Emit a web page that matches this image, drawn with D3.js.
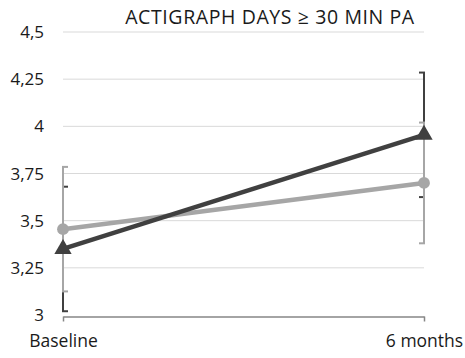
<!DOCTYPE html>
<html>
<head>
<meta charset="utf-8">
<script src="https://cdn.jsdelivr.net/npm/d3@7"></script>
<style>
  body { margin: 0; background: #fff; }
  text { font-family: "Open Sans", "Liberation Sans", sans-serif; fill: #1a1a1a; }
</style>
</head>
<body>
<div id="chart"></div>
<script>
// data
var categories = ["Baseline", "6 months"];
var yTicks = [3, 3.25, 3.5, 3.75, 4, 4.25, 4.5];
var greyValues = [3.455, 3.70];
var greyErrors = [0.33, 0.32];
var darkValues = [3.35, 3.955];
var darkErrors = [0.33, 0.33];
var title = "ACTIGRAPH DAYS \u2265 30 MIN PA";

var width = 465, height = 358;
var margin = {top: 32, right: 41, bottom: 43, left: 63};

var svg = d3.select("#chart").append("svg")
  .attr("width", width)
  .attr("height", height);

var x = d3.scalePoint()
  .domain(categories)
  .range([margin.left, width - margin.right]);

var y = d3.scaleLinear()
  .domain([3, 4.5])
  .range([height - margin.bottom, margin.top]);

var fmt = (d) => String(d).replace(".", ",");

// gridlines
svg.append("g")
  .selectAll("line")
  .data(yTicks.slice(1))
  .enter().append("line")
  .attr("x1", x.range()[0])
  .attr("x2", x.range()[1])
  .attr("y1", (d) => y(d))
  .attr("y2", (d) => y(d))
  .style("stroke", "#d9d9d9")
  .style("stroke-width", 1);

// y tick labels
svg.append("g")
  .selectAll("text")
  .data(yTicks)
  .enter().append("text")
  .attr("x", 44)
  .attr("y", (d) => y(d) + 6)
  .attr("text-anchor", "end")
  .style("font-size", "17px")
  .text(fmt);

// x axis
var xAxis = svg.append("g")
  .attr("transform", "translate(0," + (y(3) + 1.5) + ")")
  .call(d3.axisBottom(x).tickSize(5).tickSizeOuter(0).tickPadding(13));
xAxis.select(".domain").style("stroke", "#868686").style("stroke-width", 1.5);
xAxis.selectAll(".tick line").style("stroke", "#868686").style("stroke-width", 1.5);
xAxis.selectAll(".tick text")
  .style("font-size", "17.5px")
  .style("font-family", "'Open Sans', sans-serif")
  .attr("fill", "#1a1a1a");

// clip so caps at the edges are cut like the original
svg.append("clipPath").attr("id", "plotclip")
  .append("rect")
  .attr("x", x.range()[0] - 1)
  .attr("y", 0)
  .attr("width", x.range()[1] - x.range()[0] + 2)
  .attr("height", height);

var series = [
  {vals: darkValues, errs: darkErrors, color: "#404040", shape: "triangle"},
  {vals: greyValues, errs: greyErrors, color: "#a6a6a6", shape: "circle"}
];

// error bars: dark first, grey on top
series.forEach(function(s) {
  var g = svg.append("g").attr("clip-path", "url(#plotclip)");
  categories.forEach(function(c, i) {
    var cx = x(c), hi = y(s.vals[i] + s.errs[i]), lo = y(s.vals[i] - s.errs[i]);
    g.append("line").attr("x1", cx).attr("x2", cx).attr("y1", hi).attr("y2", lo);
    g.append("line").attr("x1", cx - 5).attr("x2", cx + 5).attr("y1", hi).attr("y2", hi);
    g.append("line").attr("x1", cx - 5).attr("x2", cx + 5).attr("y1", lo).attr("y2", lo);
  });
  g.selectAll("line").style("stroke", s.color).style("stroke-width", 2);
});

// lines + markers: grey first, dark on top
var line = d3.line()
  .x((d, i) => x(categories[i]))
  .y((d) => y(d));

[series[1], series[0]].forEach(function(s) {
  svg.append("path")
    .datum(s.vals)
    .attr("d", line)
    .style("fill", "none")
    .style("stroke", s.color)
    .style("stroke-width", 4.5);

  var sym = s.shape === "circle"
    ? d3.symbol().type(d3.symbolCircle).size(110)
    : d3.symbol().type(d3.symbolTriangle).size(130);

  svg.selectAll(".m-" + s.shape)
    .data(s.vals)
    .enter().append("path")
    .attr("class", "m-" + s.shape)
    .attr("transform", (d, i) => "translate(" + x(categories[i]) + "," + y(d) + ")")
    .attr("d", sym)
    .style("fill", s.color);
});

// title
svg.append("text")
  .attr("x", 270)
  .attr("y", 24)
  .attr("text-anchor", "middle")
  .style("font-size", "19.5px")
  .style("letter-spacing", "0.6px")
  .text(title);
</script>
</body>
</html>
